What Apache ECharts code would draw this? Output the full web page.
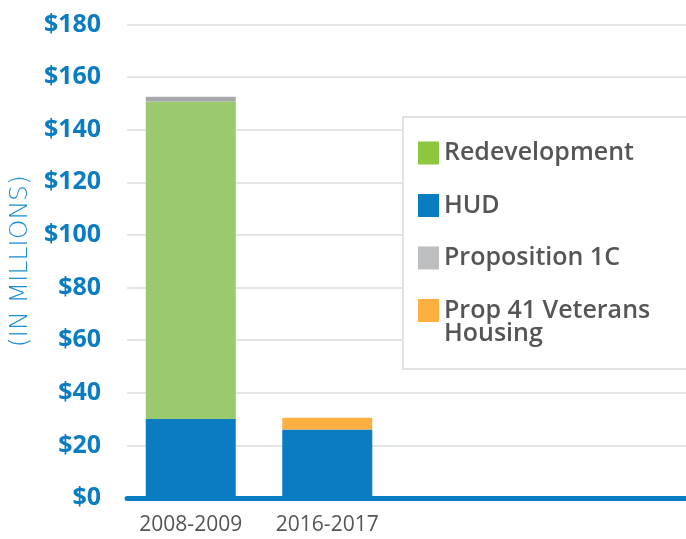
<!DOCTYPE html>
<html>
<head>
<meta charset="utf-8">
<script src="https://cdn.jsdelivr.net/npm/echarts@6/dist/echarts.min.js"></script>
<style>
  html, body { margin: 0; padding: 0; background: #fff; }
  #chart { width: 686px; height: 539px; }
</style>
</head>
<body>
<div id="chart"></div>
<script>
// funding by source, in millions of dollars
const categories = ['2008-2009', '2016-2017', '', ''];
const hud = [30, 26];
const redevelopment = [120.7, 0];
const proposition1C = [1.8, 0];
const prop41 = [0, 4.5];

const yTicks = { min: 0, max: 180, step: 20 };

const BLUE = '#0a7dc2';
const chart = echarts.init(document.getElementById('chart'));

const option = {
  animation: false,
  // grid 0 carries the y scale, gridlines and the long blue baseline
  // grid 1 holds the bars, placed inside a narrower band
  grid: [
    { left: 114, right: 0, top: 24.5, bottom: 41 },
    { left: 122.5, width: 546, top: 24.5, bottom: 41 }
  ],
  legend: {
    orient: 'vertical',
    left: 403,
    top: 117,
    padding: [23.5, 80, 46, 15],
    itemGap: 27.5,
    itemWidth: 21,
    itemHeight: 23,
    icon: 'rect',
    selectedMode: false,
    backgroundColor: '#fff',
    borderColor: '#e2e2e2',
    borderWidth: 2,
    borderRadius: 0,
    textStyle: { fontFamily: 'Open Sans', fontSize: 25, color: '#555', fontWeight: 600 },
    formatter: function (name) {
      return name === 'Prop 41 Veterans Housing' ? 'Prop 41 Veterans' : name;
    },
    data: [
      { name: 'Redevelopment', itemStyle: { color: '#8dc63f' } },
      { name: 'HUD', itemStyle: { color: BLUE } },
      { name: 'Proposition 1C', itemStyle: { color: '#bcbec0' } },
      { name: 'Prop 41 Veterans Housing', itemStyle: { color: '#fbb040' } }
    ]
  },
  graphic: [{
    type: 'text',
    left: 444,
    top: 321,
    z: 100,
    style: { text: 'Housing', font: '600 25px "Open Sans"', fill: '#555' }
  }],
  xAxis: [
    {
      gridIndex: 0, type: 'category', data: [''],
      axisLine: { show: true, lineStyle: { color: BLUE, width: 5 } },
      axisTick: { show: false }, axisLabel: { show: false }
    },
    {
      gridIndex: 1, type: 'category', data: categories,
      axisLine: { show: false }, axisTick: { show: false },
      axisLabel: { color: '#555', fontSize: 21, fontFamily: 'Open Sans', margin: 17 }
    }
  ],
  yAxis: [
    {
      gridIndex: 0, type: 'value',
      min: yTicks.min, max: yTicks.max, interval: yTicks.step,
      name: '(IN MILLIONS)',
      nameLocation: 'middle',
      nameGap: 94,
      nameTextStyle: { color: '#1a8dd0', fontSize: 25, fontFamily: 'DejaVu Sans', fontWeight: 200 },
      axisLine: { show: false }, axisTick: { show: false },
      axisLabel: {
        color: BLUE, fontSize: 25, fontWeight: 'bold', fontFamily: 'Open Sans', margin: 26,
        formatter: v => '$' + v
      },
      splitLine: { lineStyle: { color: '#dcdcdc', width: 1.5 } }
    },
    {
      gridIndex: 1, type: 'value',
      min: yTicks.min, max: yTicks.max, interval: yTicks.step,
      show: false, splitLine: { show: false }
    }
  ],
  series: [
    { name: 'HUD', type: 'bar', stack: 'total', xAxisIndex: 1, yAxisIndex: 1,
      barWidth: 90, data: hud, itemStyle: { color: BLUE } },
    { name: 'Redevelopment', type: 'bar', stack: 'total', xAxisIndex: 1, yAxisIndex: 1,
      barWidth: 90, data: redevelopment, itemStyle: { color: '#9aca6d' } },
    { name: 'Proposition 1C', type: 'bar', stack: 'total', xAxisIndex: 1, yAxisIndex: 1,
      barWidth: 90, data: proposition1C, itemStyle: { color: '#a7a8aa' } },
    { name: 'Prop 41 Veterans Housing', type: 'bar', stack: 'total', xAxisIndex: 1, yAxisIndex: 1,
      barWidth: 90, data: prop41, itemStyle: { color: '#fbb040' } }
  ]
};

chart.setOption(option);
</script>
</body>
</html>
